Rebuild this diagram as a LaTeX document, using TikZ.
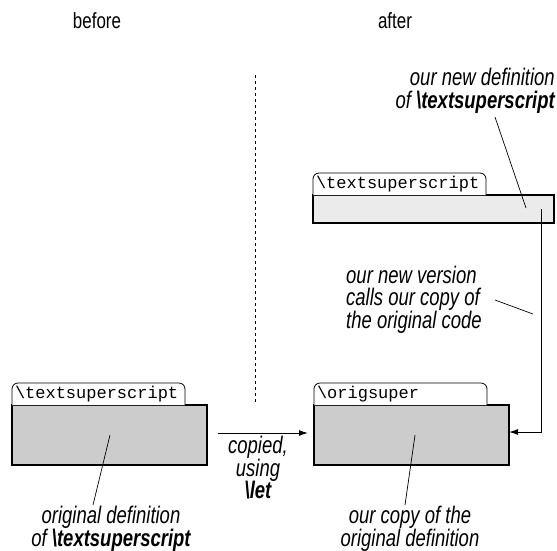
\documentclass[tikz,border=0pt]{standalone}
\usepackage{fontspec}
\setmainfont{Liberation Sans}[FakeStretch=0.77]
\newfontfamily\codefont{Liberation Mono}
\usetikzlibrary{arrows.meta}
\definecolor{boxgray}{HTML}{CCCCCC}
\definecolor{lightgray}{HTML}{EBEBEB}
\begin{document}
\begin{tikzpicture}[x=1pt,y=-1pt,
  mainbox/.style={draw, line width=2pt, outer sep=0pt, inner sep=0pt, anchor=north west},
  tabnode/.style={outer sep=0pt, inner xsep=3pt, inner ysep=0pt, minimum height=22pt,
    text width=167pt, align=left, anchor=south west, font=\codefont\fontsize{17}{17}\selectfont},
  tabline/.style={draw, line width=0.8pt, fill=white, rounded corners=6pt},
  lbl/.style={font=\itshape\fontsize{24}{21}\selectfont, inner sep=0pt},
  widelbl/.style={font=\itshape\fontsize{24}{22.5}\selectfont, inner sep=0pt},
  head/.style={font=\fontsize{22}{22}\selectfont, inner sep=0pt, anchor=base},
  leader/.style={line width=0.7pt},
  conn/.style={line width=1pt, -{Latex[length=9pt,width=6pt]}}]
\fill[white] (0,0) rectangle (557,550);
\useasboundingbox (0,0) rectangle (557,550);

% headings
\node[head] (before) at (97,28) {before};
\node[head] (after) at (395,28) {after};

% divider
\coordinate (dtop) at (255,75);
\coordinate (dbot) at (255,405);
\draw[line width=0.8pt, dash pattern=on 3pt off 3pt] (dtop) -- (dbot);

% left box (original)
\node[mainbox, fill=boxgray, minimum width=195pt, minimum height=60pt] (orig) at (12,405) {};
\node[tabnode] (origtab) at (orig.north west) {\textbackslash textsuperscript};
\path[tabline] (origtab.south west) -- (origtab.north west) -- (origtab.north east) -- (origtab.south east);
\node[tabnode] at (orig.north west) {\textbackslash textsuperscript};

% right lower box (copy)
\node[mainbox, fill=boxgray, minimum width=195pt, minimum height=60pt] (copy) at (314,405) {};
\node[tabnode] (copytab) at (copy.north west) {\textbackslash origsuper};
\path[tabline] (copytab.south west) -- (copytab.north west) -- (copytab.north east) -- (copytab.south east);
\node[tabnode] at (copy.north west) {\textbackslash origsuper};

% top box (new)
\node[mainbox, fill=lightgray, minimum width=241pt, minimum height=28pt] (new) at (313,195) {};
\node[tabnode] (newtab) at (new.north west) {\textbackslash textsuperscript};
\path[tabline] (newtab.south west) -- (newtab.north west) -- (newtab.north east) -- (newtab.south east);
\node[tabnode] at (new.north west) {\textbackslash textsuperscript};

% copied arrow
\coordinate (cpa) at (218,433);
\coordinate (cpb) at (308,433);
\draw[conn] (cpa) -- (cpb);
\node[widelbl, align=center] (copiedlbl) at (258,468) {copied,\\using\\\textbf{\textbackslash let}};

% connector from new to copy
\coordinate (nstart) at (541,209);
\coordinate (nturn) at (541,432);
\draw[conn] (nstart) -- (nturn) -- (nturn -| copy.east);

% labels
\node[lbl, align=center] (origlbl) at (111,528.5) {original definition\\of \textbf{\textbackslash textsuperscript}};
\coordinate (o1) at (110,435);
\coordinate (o2) at (93,505);
\draw[leader] (o1) -- (o2);

\node[lbl, align=center] (copylbl) at (410,528.5) {our copy of the\\original definition};
\coordinate (c1) at (415,435);
\coordinate (c2) at (405,505);
\draw[leader] (c1) -- (c2);

\node[widelbl, align=right, anchor=east] (newlbl) at (555,91) {our new definition\\of \textbf{\textbackslash textsuperscript}};
\coordinate (n1) at (495,117);
\coordinate (n2) at (526,208);
\draw[leader] (n1) -- (n2);

\node[widelbl, align=left, anchor=west] (verlbl) at (346,299.5) {our new version\\calls our copy of\\the original code};
\coordinate (v1) at (495,300);
\coordinate (v2) at (533,314);
\draw[leader] (v1) -- (v2);
\end{tikzpicture}
\end{document}
